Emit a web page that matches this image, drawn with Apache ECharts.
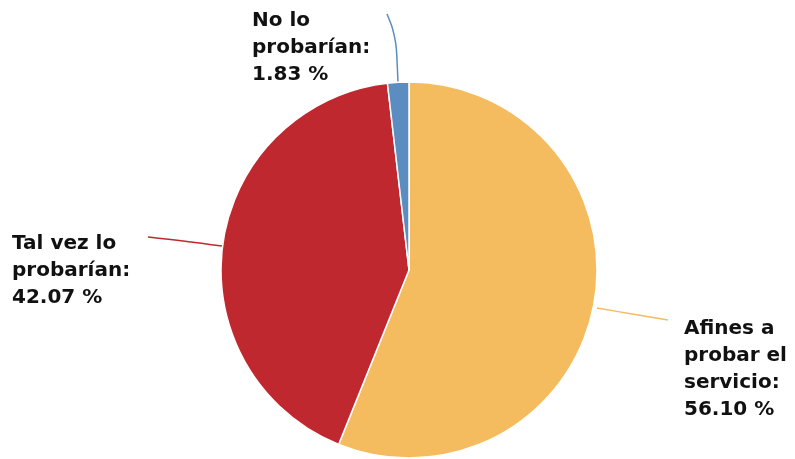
<!DOCTYPE html>
<html>
<head>
<meta charset="utf-8">
<script src="https://cdn.jsdelivr.net/npm/echarts@6/dist/echarts.min.js"></script>
<style>
html, body { margin: 0; padding: 0; background: #fff; }
#pie { width: 795px; height: 459px; }
</style>
</head>
<body>
<div id="pie"></div>
<script>
var categories = ['Afines a\nprobar el\nservicio', 'Tal vez lo\nprobarían', 'No lo\nprobarían'];
var shares = [56.10, 42.07, 1.83];
var colors = ['#F4BC5F', '#C0282F', '#5B8DC1'];

// where each label block sits and how its leader line runs
var labelBoxes = [
    { x: 684, y: 315, line: [[597, 308], [632, 314], [668, 320]] },
    { x: 12, y: 230, line: [[222, 246], [185, 241], [148, 237]] },
    { x: 252, y: 7, line: [[398, 82], [396, 36], [387, 14]] }
];

var chart = echarts.init(document.getElementById('pie'));

var pieData = categories.map(function (name, i) {
    return {
        name: name,
        value: shares[i],
        itemStyle: { color: colors[i] },
        labelLine: { lineStyle: { color: colors[i] } }
    };
});

var option = {
    animation: false,
    series: [{
        type: 'pie',
        center: [409, 270],
        radius: 188,
        startAngle: 90,
        clockwise: true,
        data: pieData,
        itemStyle: { borderColor: '#fff', borderWidth: 1.5 },
        label: {
            show: true,
            formatter: function (p) {
                return p.name + ':\n' + p.value.toFixed(2) + ' %';
            },
            fontFamily: 'DejaVu Sans',
            fontWeight: 'bold',
            fontSize: 20,
            lineHeight: 27,
            color: '#111'
        },
        labelLine: {
            show: true,
            smooth: 0.4,
            lineStyle: { width: 1.5 }
        },
        labelLayout: function (params) {
            var b = labelBoxes[params.dataIndex];
            return {
                x: b.x,
                y: b.y,
                align: 'left',
                verticalAlign: 'top',
                labelLinePoints: b.line
            };
        }
    }]
};

chart.setOption(option);
</script>
</body>
</html>
